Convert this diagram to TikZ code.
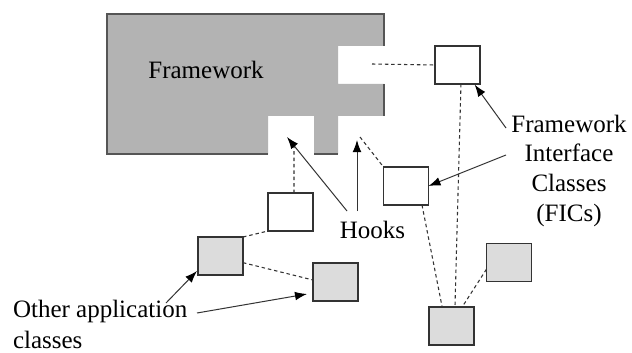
\documentclass[tikz,border=0pt]{standalone}
\usepackage{fontspec}
\setmainfont{Liberation Serif}
\usetikzlibrary{arrows.meta}
\definecolor{fwfill}{HTML}{B3B3B3}
\definecolor{fwline}{HTML}{555555}
\definecolor{boxgray}{HTML}{DCDCDC}
\definecolor{lin}{HTML}{333333}
\tikzset{
  box/.style={draw=lin, line width=0.9pt, fill=white, minimum width=33.75pt, minimum height=28.5pt, inner sep=0pt, outer sep=0pt},
  graybox/.style={box, fill=boxgray},
  dashline/.style={draw=lin, line width=0.8pt, dash pattern=on 2.6pt off 2.2pt},
  arr/.style={draw=lin, line width=0.75pt, -{Latex[length=9pt,width=6.5pt,color=black]}},
  lbl/.style={font=\fontsize{18.75}{22.5}\selectfont, inner sep=0pt, outer sep=0pt, text=black},
}
\begin{document}
\begin{tikzpicture}[x=0.75pt,y=-0.75pt]
\useasboundingbox (0,0) rectangle (632,353);
\fill[white] (0,0) rectangle (632,353);
% framework block with hooks (notches)
\fill[fwfill] (107,14) -- (384,14) -- (384,46) -- (338,46) -- (338,84) -- (384,84) -- (384,116) -- (338,116) -- (338,154) -- (314,154) -- (314,116) -- (268,116) -- (268,154) -- (107,154) -- cycle;
\draw[fwline, line width=0.9pt] (268,154) -- (107,154) -- (107,14) -- (384,14) -- (384,46);
\draw[fwline, line width=0.9pt] (384,84) -- (384,116);
\draw[fwline, line width=0.9pt] (314,154) -- (338,154);
\node[lbl, anchor=base] (fw) at (206,79) {Framework};

% boxes
\node[box] (fic1) at (457.5,65) {};
\node[box] (fic2) at (406,186) {};
\node[box] (hk) at (290.5,212) {};
\node[graybox] (gA) at (220.5,256) {};
\node[graybox] (gB) at (335.5,282) {};
\node[graybox] (gC) at (509,262.5) {};
\node[graybox] (gD) at (451.5,326) {};

% labels
\node[lbl, anchor=base] (hooks) at (372.5,238) {Hooks};
\node[lbl, anchor=north, align=center, font=\fontsize{18.75}{22.2}\selectfont] (fics) at (569,115) {Framework\\Interface\\Classes\\(FICs)};
\node[lbl, anchor=north west, align=left, font=\fontsize{18.75}{23}\selectfont] (other) at (13,300.5) {Other application\\classes};

% free-end coordinates
\coordinate (n1) at (372,64);
\coordinate (n2) at (360,137);
\coordinate (n3) at (294,143);
\coordinate (tip1) at (287,137);
\coordinate (tip2) at (357,140);
\coordinate (h1) at (347,211);
\coordinate (h2) at (357,211);
\coordinate (f1) at (506,128);
\coordinate (f2) at (506,155);
\coordinate (o1) at (166,303);
\coordinate (o2) at (197,313);
\coordinate (tipo1) at (197,271);
\coordinate (tipo2) at (307,294);

% dashed connectors
\draw[dashline] (n1) -- (fic1.west);
\draw[dashline] (n2) -- (fic2.north west);
\draw[dashline] ([xshift=2.6pt]fic1.south) -- ([xshift=2.6pt]gD.north);
\draw[dashline] ([xshift=12pt]fic2.south) -- ([xshift=-7pt]gD.north);
\draw[dashline] ([yshift=-5pt]gC.west) -- ([xshift=8pt]gD.north);
\draw[dashline] ([xshift=2.6pt]hk.north) -- (n3);
\draw[dashline] (gA.north east) -- (hk.south west);
\draw[dashline] ([yshift=-5pt]gA.east) -- ([yshift=1.5pt]gB.west);

% arrows
\draw[arr] (h1) -- (tip1);
\draw[arr] (h2) -- (tip2);
\draw[arr] (f1) -- ([xshift=-4pt,yshift=-0.5pt]fic1.south east);
\draw[arr] (f2) -- (fic2.east);
\draw[arr] (o1) -- (tipo1);
\draw[arr] (o2) -- (tipo2);
\end{tikzpicture}
\end{document}
